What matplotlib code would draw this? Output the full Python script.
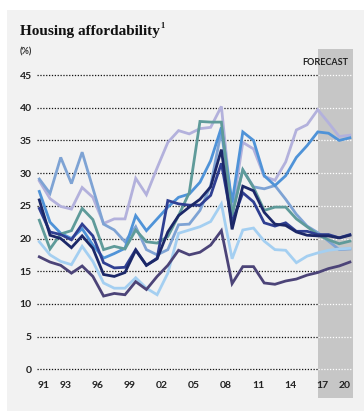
import numpy as np
import matplotlib
matplotlib.use("Agg")
import matplotlib.pyplot as plt
from matplotlib.patches import Rectangle

# data (share of income, %)
years = list(range(1991, 2021))

lavender = [28.8, 26.1, 24.9, 24.5, 27.8, 26.3, 22.3, 23.0, 23.0, 29.2,
            26.7, 30.8, 34.7, 36.5, 36.0, 36.8, 37.0, 40.2, 24.0, 34.7,
            33.7, 29.5, 28.9, 31.7, 36.6, 37.4, 39.7, 37.7, 35.6, 35.8]
mid_blue = [27.2, 22.5, 20.8, 20.0, 21.5, 19.0, 17.0, 17.7, 18.5, 23.5,
            21.2, 23.0, 24.8, 26.3, 26.8, 28.6, 31.9, 37.0, 25.5, 36.3,
            35.0, 29.6, 28.1, 29.6, 32.4, 34.2, 36.3, 36.1, 35.0, 35.4]
steel_blue = [29.1, 26.9, 32.4, 28.4, 33.2, 27.7, 22.2, 21.3, 19.5, 21.8,
              18.3, 17.5, 18.3, 22.1, 22.2, 24.3, 28.1, 36.5, 24.0, 30.5,
              27.9, 27.6, 28.1, 26.0, 23.7, 21.9, 20.9, 19.6, 18.3, 18.4]
teal = [22.8, 18.4, 20.7, 21.2, 24.6, 22.9, 18.3, 18.8, 18.4, 21.3,
        19.5, 19.3, 20.3, 23.5, 27.0, 37.9, 37.8, 37.8, 23.5, 30.5,
        27.8, 24.3, 24.8, 24.8, 23.0, 21.8, 20.6, 19.8, 19.2, 19.6]
navy = [24.6, 21.0, 20.6, 19.8, 22.2, 20.4, 16.3, 15.5, 15.6, 18.3,
        15.9, 17.0, 25.8, 25.3, 25.1, 25.1, 26.6, 31.5, 22.5, 27.0,
        25.6, 22.4, 21.9, 22.4, 21.1, 21.1, 20.6, 20.6, 20.1, 20.6]
dark_navy = [25.9, 20.5, 20.0, 18.6, 20.4, 18.5, 14.5, 14.2, 14.8, 18.2,
             15.9, 16.9, 21.0, 23.5, 24.8, 26.0, 27.9, 33.6, 21.4, 28.0,
             27.3, 24.0, 22.2, 22.0, 21.0, 20.5, 20.4, 20.4, 20.1, 20.5]
light_blue = [19.5, 17.5, 16.5, 16.0, 18.8, 16.5, 13.2, 12.4, 12.4, 14.0,
              12.4, 11.4, 14.7, 20.8, 21.3, 21.8, 22.6, 25.3, 16.9, 21.3,
              21.6, 19.6, 18.3, 18.2, 16.3, 17.3, 17.8, 18.2, 18.4, 18.5]
purple = [17.2, 16.4, 15.9, 14.7, 15.8, 14.2, 11.2, 11.6, 11.4, 13.4,
          12.2, 14.2, 15.9, 18.2, 17.5, 17.9, 19.0, 21.2, 13.1, 15.7,
          15.7, 13.2, 13.0, 13.5, 13.8, 14.4, 14.8, 15.4, 15.8, 16.4]

series = [lavender, steel_blue, mid_blue, teal, light_blue, navy, dark_navy, purple]
colors = ['#b3b1dc', '#7ea3d4', '#4f93d8', '#5f9b9a', '#a4cff1',
          '#2f3f92', '#1c2868', '#4c4478']

y_ticks = [0, 5, 10, 15, 20, 25, 30, 35, 40, 45]
x_label_years = [1991, 1993, 1996, 1999, 2002, 2005, 2008, 2011, 2014, 2017, 2020]
x_labels = ['91', '93', '96', '99', '02', '05', '08', '11', '14', '17', '20']
forecast_start = 2017

fig = plt.figure(figsize=(3.64, 4.11), dpi=100)
fig.patch.set_facecolor('white')
fig.patches.append(Rectangle((7 / 364, 0), 1, 401 / 411, transform=fig.transFigure,
                             facecolor='#f2f2f2', edgecolor='none', zorder=-5))

ax = fig.add_axes([36.7 / 364, 13 / 411, 316 / 364, 349 / 411])
ax.set_zorder(2)
ax.set_facecolor('none')
x_left, x_right = 1990.757, 2020.26
ax.set_xlim(x_left, x_right)
ax.set_ylim(-4.39, 48.98)
for s in ax.spines.values():
    s.set_visible(False)

ax.axvspan(forecast_start, x_right, color='#c6c6c6', lw=0, zorder=0)

# dotted grid: black on the history part, white over the forecast band
ax.hlines(y_ticks, x_left, forecast_start, colors='#111111', lw=0.9,
          linestyles=(0, (1, 1.3)), zorder=1)
ax.hlines(y_ticks, forecast_start, x_right, colors='white', lw=0.9,
          linestyles=(0, (1, 1.3)), zorder=1)

for vals, c in zip(series, colors):
    ax.plot(years, vals, color=c, lw=2.0, solid_joinstyle='miter', zorder=3)

ax.set_yticks(y_ticks)
ax.set_yticklabels([str(v) for v in y_ticks])
ax.tick_params(axis='y', length=0, pad=3.5, labelsize=7.5, labelcolor='#222222')
for lab in ax.get_yticklabels():
    lab.set_fontfamily('Lato')
    lab.set_fontweight('bold')
ax.set_xticks([])

for yr, lab in zip(x_label_years, x_labels):
    ax.text(min(yr + 0.45, x_right - 0.75), -2.55, lab, ha='center', va='center',
            fontsize=7.5, family='Lato', fontweight='bold', color='#222222')

ax.text(x_right - 0.4, 46.9, 'FORECAST', ha='right', va='center', fontsize=6.5,
        family='Lato', fontweight='bold', color='#222222')

fig.text(20 / 364, 1 - 35 / 411, 'Housing affordability', ha='left', va='baseline',
         fontsize=11, family='Liberation Serif', fontweight='bold', color='#111111')
fig.text(160 / 364, 1 - 28 / 411, '1', ha='left', va='baseline',
         fontsize=6, family='Liberation Serif', fontweight='bold', color='#111111')
fig.text(20 / 364, 1 - 52 / 411, '(%)', ha='left', va='center',
         fontsize=6.5, family='Lato', fontweight='bold', color='#333333')

fig.savefig('out.png', dpi=100)
